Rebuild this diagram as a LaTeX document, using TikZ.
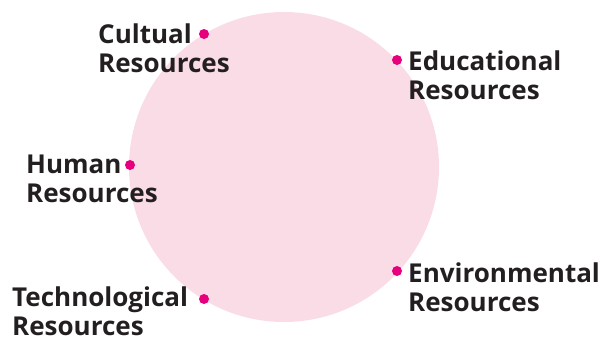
\documentclass[tikz,border=0pt]{standalone}
\usepackage{fontspec}
\setmainfont{Open Sans}
\usepackage{tikz}
\usetikzlibrary{positioning, calc}
\definecolor{blush}{HTML}{FADCE7}
\definecolor{dotpink}{HTML}{E6007E}
\definecolor{ink}{HTML}{231F20}
\tikzset{resdot/.style={circle, fill=dotpink, inner sep=0pt, minimum size=10pt}}
\tikzset{reslabel/.style={anchor=base west, align=left, inner sep=0pt, text=ink,
    font=\bfseries\fontsize{26}{29}\selectfont}}

\begin{document}
\begin{tikzpicture}[x=1pt, y=-1pt]

      \useasboundingbox (0,0) rectangle (605,343);

      % CIRCLE

      \node[circle, fill=blush, minimum size=310pt, inner sep=0pt] (ring) at (284,167) {};

      % DOTS

      \node[resdot] (dCult) at (204,34)  {};
      \node[resdot] (dEdu)  at (397,60)  {};
      \node[resdot] (dHum)  at (130,165) {};
      \node[resdot] (dEnv)  at (397,271) {};
      \node[resdot] (dTech) at (204,299) {};

      % LABELS (base = last line)

      \node[reslabel] (lCult) at (98,72)   {Cultual\\Resources};
      \node[reslabel] (lEdu)  at ($(dEdu)+(11,39)$) {Educational\\Resources};
      \node[reslabel] (lHum)  at (26,202)  {Human\\Resources};
      \node[reslabel] (lEnv)  at ($(dEnv)+(11,40)$) {Environmental\\Resources};
      \node[reslabel] (lTech) at (12,335)  {Technological\\Resources};

    \end{tikzpicture}
\end{document}
